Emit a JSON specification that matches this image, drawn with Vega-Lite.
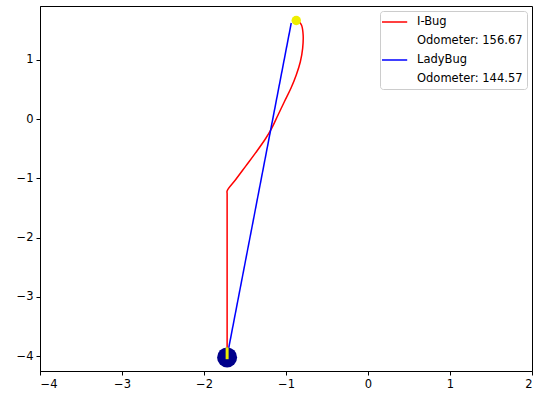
{
  "$schema": "https://vega.github.io/schema/vega-lite/v6.json",
  "width": 492,
  "height": 365,
  "autosize": {"type": "none"},
  "padding": {"left": 40, "top": 6, "right": 5, "bottom": 23},
  "background": "white",
  "config": {
    "view": {"stroke": "black", "strokeWidth": 1},
    "axis": {
      "grid": false,
      "domainColor": "black",
      "domainWidth": 1,
      "tickColor": "black",
      "tickWidth": 1,
      "tickSize": 4,
      "labelPadding": 3,
      "labelFont": "DejaVu Sans",
      "labelFontSize": 11.5,
      "labelColor": "black",
      "format": "d",
      "title": null
    },
    "legend": {
      "labelFont": "DejaVu Sans",
      "labelFontSize": 11.5,
      "labelColor": "black"
    }
  },
  "datasets": {
    "paths": [
      {"series": "I-Bug", "i": 0, "x": -1.718, "y": -4.0},
      {"series": "I-Bug", "i": 1, "x": -1.718, "y": -1.26},
      {"series": "I-Bug", "i": 2, "x": -1.718, "y": -1.21},
      {"series": "I-Bug", "i": 3, "x": -1.613, "y": -1.018},
      {"series": "I-Bug", "i": 4, "x": -1.491, "y": -0.792},
      {"series": "I-Bug", "i": 5, "x": -1.369, "y": -0.565},
      {"series": "I-Bug", "i": 6, "x": -1.25, "y": -0.33},
      {"series": "I-Bug", "i": 7, "x": -1.175, "y": -0.155},
      {"series": "I-Bug", "i": 8, "x": -1.097, "y": 0.071},
      {"series": "I-Bug", "i": 9, "x": -1.02, "y": 0.295},
      {"series": "I-Bug", "i": 10, "x": -0.94, "y": 0.521},
      {"series": "I-Bug", "i": 11, "x": -0.875, "y": 0.746},
      {"series": "I-Bug", "i": 12, "x": -0.825, "y": 0.97},
      {"series": "I-Bug", "i": 13, "x": -0.797, "y": 1.196},
      {"series": "I-Bug", "i": 14, "x": -0.791, "y": 1.421},
      {"series": "I-Bug", "i": 15, "x": -0.81, "y": 1.585},
      {"series": "I-Bug", "i": 16, "x": -0.842, "y": 1.645},
      {"series": "I-Bug", "i": 17, "x": -0.875, "y": 1.665},
      {"series": "LadyBug", "i": 0, "x": -1.718, "y": -4.0},
      {"series": "LadyBug", "i": 1, "x": -0.936, "y": 1.623}
    ],
    "home": [{"x": -1.718, "y": -4.02}],
    "heading": [{"x": -1.718, "y": -3.85, "y2": -4.05}],
    "goal": [{"x": -0.875, "y": 1.665}]
  },
  "layer": [
    {
      "data": {"name": "paths"},
      "mark": {"type": "line", "strokeWidth": 1.5, "interpolate": "catmull-rom"},
      "encoding": {
        "x": {"field": "x", "type": "quantitative", "scale": {"domain": [-4, 2], "nice": false, "zero": false}, "axis": {"values": [-4, -3, -2, -1, 0, 1, 2]}},
        "y": {"field": "y", "type": "quantitative", "scale": {"domain": [-4.249, 1.91], "nice": false, "zero": false}, "axis": {"values": [-4, -3, -2, -1, 0, 1]}},
        "order": {"field": "i", "type": "quantitative"},
        "color": {
          "field": "series",
          "type": "nominal",
          "scale": {
            "domain": ["I-Bug", "Odometer: 156.67", "LadyBug", "Odometer: 144.57"],
            "range": ["red", "transparent", "blue", "transparent"]
          },
          "legend": {
            "title": null,
            "orient": "top-right",
            "offset": 5,
            "symbolType": "M-1.5,0H2.7",
            "symbolSize": 144,
            "symbolStrokeWidth": 1.5,
            "fillColor": "white",
            "strokeColor": "#cccccc",
            "cornerRadius": 3,
            "padding": 4,
            "rowPadding": 6,
            "labelOffset": 19
          }
        }
      }
    },
    {
      "data": {"name": "home"},
      "mark": {"type": "point", "shape": "circle", "filled": true, "color": "#00008b", "opacity": 1, "size": 400},
      "encoding": {
        "x": {"field": "x", "type": "quantitative"},
        "y": {"field": "y", "type": "quantitative"}
      }
    },
    {
      "data": {"name": "heading"},
      "mark": {"type": "rule", "color": "#eeee00", "strokeWidth": 3},
      "encoding": {
        "x": {"field": "x", "type": "quantitative"},
        "y": {"field": "y", "type": "quantitative"},
        "y2": {"field": "y2"}
      }
    },
    {
      "data": {"name": "goal"},
      "mark": {"type": "point", "shape": "circle", "filled": true, "color": "#eeee00", "opacity": 1, "size": 90},
      "encoding": {
        "x": {"field": "x", "type": "quantitative"},
        "y": {"field": "y", "type": "quantitative"}
      }
    }
  ]
}
